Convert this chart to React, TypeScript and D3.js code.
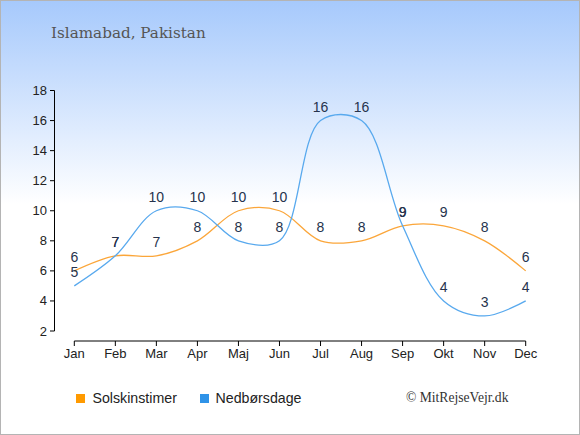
import React from 'react';
import { scaleLinear, scalePoint, line, curveCatmullRom } from 'd3';

const months = ['Jan', 'Feb', 'Mar', 'Apr', 'Maj', 'Jun', 'Jul', 'Aug', 'Sep', 'Okt', 'Nov', 'Dec'];
const sunHours = [6, 7, 7, 8, 10, 10, 8, 8, 9, 9, 8, 6];
const rainDays = [5, 7, 10, 10, 8, 8, 16, 16, 9, 4, 3, 4];
const yTicks = [2, 4, 6, 8, 10, 12, 14, 16, 18];

const App = () => {
    let svgWidth = 580;
    let svgHeight = 435;

    let x = scalePoint<string>().domain(months).range([74.3, 525.7]);
    let y = scaleLinear().domain([2, 18]).range([331, 90.5]);

    let linefunc = line<number>().x((d, i) => x(months[i])).y(d => y(d)).curve(curveCatmullRom);

    const sunColor = '#fba63a';
    const rainColor = '#58a9ee';
    const labelColor = '#26334d';

    return (
        <svg width={svgWidth} height={svgHeight} style={{ display: 'block', position: 'absolute', left: 0, top: 0 }}>
            <defs>
                <linearGradient id="bg" x1="0" y1="0" x2="0" y2="1">
                    <stop offset="0" stopColor="#a6c9fc" />
                    <stop offset="0.47" stopColor="#ffffff" />
                    <stop offset="1" stopColor="#ffffff" />
                </linearGradient>
            </defs>
            <rect x={0.5} y={0.5} width={svgWidth - 1} height={svgHeight - 1} fill="url(#bg)" stroke="#b4b4b4" />
            <text x={51} y={38} fontFamily="'DejaVu Serif', serif" fontSize={15.2} fill="#555">Islamabad, Pakistan</text>

            {/* y axis */}
            <g fontFamily="'Liberation Sans', Arial, sans-serif" fontSize={13} fill="#222">
                <line x1={54.5} x2={54.5} y1={y(18)} y2={y(2)} stroke="#000" />
                {yTicks.map(t => (
                    <g key={t}>
                        <line x1={50} x2={54.5} y1={y(t)} y2={y(t)} stroke="#000" />
                        <text x={47} y={y(t) + 4.5} textAnchor="end">{t}</text>
                    </g>
                ))}
            </g>

            {/* x axis */}
            <g fontFamily="'Liberation Sans', Arial, sans-serif" fontSize={13} fill="#222">
                <line x1={x('Jan')} x2={x('Dec')} y1={341} y2={341} stroke="#000" />
                {months.map(m => (
                    <g key={m}>
                        <line x1={x(m)} x2={x(m)} y1={341} y2={346} stroke="#000" />
                        <text x={x(m)} y={358} textAnchor="middle">{m}</text>
                    </g>
                ))}
            </g>

            <path d={linefunc(sunHours)} fill="none" stroke={sunColor} strokeWidth={1.3} />
            <path d={linefunc(rainDays)} fill="none" stroke={rainColor} strokeWidth={1.3} />

            <g fontFamily="'Liberation Sans', Arial, sans-serif" fontSize={14} fill={labelColor} textAnchor="middle">
                {sunHours.map((v, i) => (
                    <text key={'s' + i} x={x(months[i])} y={y(v) - 9}>{v}</text>
                ))}
                {rainDays.map((v, i) => (
                    <text key={'r' + i} x={x(months[i])} y={y(v) - 9}>{v}</text>
                ))}
            </g>

            {/* legend */}
            <g fontFamily="'Liberation Sans', Arial, sans-serif" fontSize={14.2} fill="#222">
                <rect x={76} y={394} width={9} height={9} fill="#ff9a00" />
                <text x={92.5} y={403}>Solskinstimer</text>
                <rect x={200} y={394} width={9} height={9} fill="#2f93e8" />
                <text x={215.5} y={403}>Nedbørsdage</text>
            </g>
            <text x={406} y={402} fontFamily="'Liberation Serif', serif" fontSize={13.6} fill="#333">© MitRejseVejr.dk</text>
        </svg>
    );
};

export default App;
